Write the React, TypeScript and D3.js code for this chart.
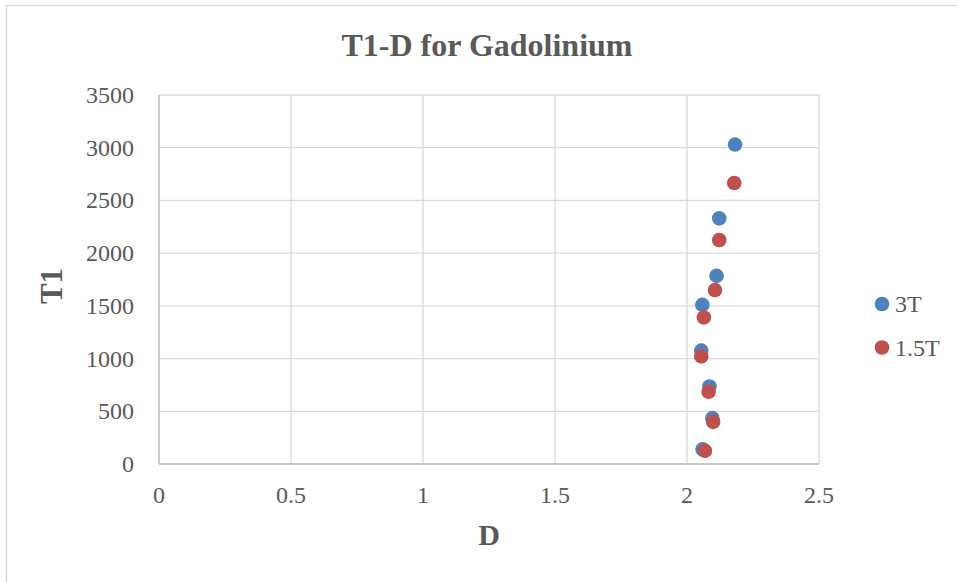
import React from 'react';
import * as d3 from 'd3';

// T1 vs D
const d3T = [2.182, 2.122, 2.112, 2.058, 2.054, 2.085, 2.096, 2.059];
const t13T = [3030, 2330, 1785, 1510, 1075, 735, 435, 140];
const d15T = [2.179, 2.122, 2.106, 2.064, 2.054, 2.082, 2.099, 2.068];
const t115T = [2665, 2125, 1650, 1390, 1020, 685, 400, 125];

const xTicks = [0, 0.5, 1, 1.5, 2, 2.5];
const yTicks = [0, 500, 1000, 1500, 2000, 2500, 3000, 3500];

const seriesNames = ['3T', '1.5T'];
const seriesColors = ['#4F81BD', '#C0504D'];

const W = 958;
const H = 582;
const textColor = '#595959';
const gridColor = '#D9D9D9';
const serif = '"Liberation Serif", "Times New Roman", serif';

export default function App() {
  const x = d3.scaleLinear().domain([0, 2.5]).range([159, 819]);
  const y = d3.scaleLinear().domain([0, 3500]).range([464, 95]);

  const series = [
    d3T.map((d, i) => ({ d, t: t13T[i] })),
    d15T.map((d, i) => ({ d, t: t115T[i] })),
  ];

  return (
    <svg
      width={W}
      height={H}
      style={{ position: 'fixed', left: 0, top: 0, background: '#fff' }}
    >
      <rect x={0} y={0} width={W} height={H} fill="#fff" />
      {/* outer chart border, cropped at right and bottom */}
      <rect x={6.5} y={5.5} width={W + 10} height={H + 10} fill="none" stroke={gridColor} strokeWidth={1.5} />

      <text x={487} y={56} textAnchor="middle" fontFamily={serif} fontWeight="bold" fontSize={32} fill={textColor}>
        T1-D for Gadolinium
      </text>

      {/* gridlines */}
      {yTicks.map(t => (
        <line key={'gy' + t} x1={x(0)} x2={x(2.5)} y1={y(t)} y2={y(t)} stroke={gridColor} strokeWidth={1.3} />
      ))}
      {xTicks.map(t => (
        <line key={'gx' + t} x1={x(t)} x2={x(t)} y1={y(0)} y2={y(3500)} stroke={gridColor} strokeWidth={1.3} />
      ))}
      <line x1={x(0)} x2={x(2.5)} y1={y(0)} y2={y(0)} stroke="#BFBFBF" strokeWidth={1.5} />
      <line x1={x(0)} x2={x(0)} y1={y(0)} y2={y(3500)} stroke="#BFBFBF" strokeWidth={1.3} />

      {/* tick labels */}
      {yTicks.map(t => (
        <text key={'ly' + t} x={134} y={y(t) + 8} textAnchor="end" fontFamily={serif} fontSize={24} fill={textColor}>
          {t}
        </text>
      ))}
      {xTicks.map(t => (
        <text key={'lx' + t} x={x(t)} y={503} textAnchor="middle" fontFamily={serif} fontSize={24} fill={textColor}>
          {t}
        </text>
      ))}

      {/* axis titles */}
      <text x={489} y={545} textAnchor="middle" fontFamily={serif} fontWeight="bold" fontSize={30} fill={textColor}>
        D
      </text>
      <text
        transform="translate(62,286) rotate(-90)"
        textAnchor="middle"
        fontFamily={serif}
        fontWeight="bold"
        fontSize={31}
        fill={textColor}
      >
        T1
      </text>

      {/* points */}
      {series.map((pts, si) => (
        <g key={'s' + si}>
          {pts.map((p, i) => (
            <circle key={i} cx={x(p.d)} cy={y(p.t)} r={7.3} fill={seriesColors[si]} />
          ))}
        </g>
      ))}

      {/* legend */}
      {seriesNames.map((name, i) => (
        <g key={name} transform={`translate(882,${304 + i * 43.5})`}>
          <circle cx={0} cy={0} r={7.3} fill={seriesColors[i]} />
          <text x={13} y={8} fontFamily={serif} fontSize={24} fill={textColor}>
            {name}
          </text>
        </g>
      ))}
    </svg>
  );
}
